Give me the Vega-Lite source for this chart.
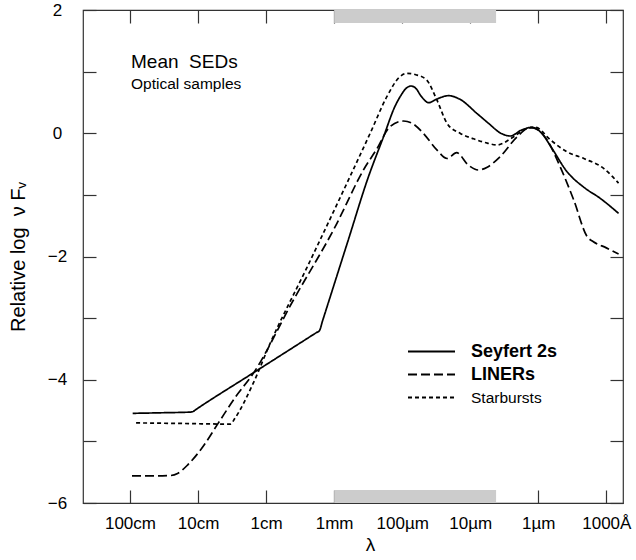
{
  "$schema": "https://vega.github.io/schema/vega-lite/v6.json",
  "width": 540,
  "height": 493,
  "autosize": {"type": "none"},
  "padding": {"left": 83, "top": 10, "right": 13, "bottom": 57},
  "background": "white",
  "config": {
    "font": "Liberation Sans",
    "view": {"stroke": "#333", "strokeWidth": 1.2},
    "axis": {
      "domain": false,
      "grid": false,
      "tickColor": "#333",
      "tickWidth": 1.2,
      "tickSize": -13,
      "labelColor": "#000",
      "labelFont": "Liberation Sans",
      "labelFontSize": 17,
      "titleFont": "Liberation Sans",
      "titleColor": "#000",
      "titleFontWeight": "normal",
      "zindex": 1
    }
  },
  "title": {
    "text": "Mean\u00a0\u00a0SEDs",
    "subtitle": "Optical samples",
    "anchor": "start",
    "frame": "group",
    "dx": 48,
    "dy": 95,
    "fontSize": 19,
    "fontWeight": "normal",
    "color": "#000",
    "subtitleFontSize": 15.5,
    "subtitleColor": "#000",
    "subtitlePadding": 5
  },
  "datasets": {
    "bands": [
      {"x1": 1, "x2": 3.38, "y1": 2, "y2": 1.79},
      {"x1": 1, "x2": 3.38, "y1": -6, "y2": -5.79}
    ],
    "sed": [
      {"series": "Seyfert 2s", "x": -1.96, "y": -4.545},
      {"series": "Seyfert 2s", "x": -1.5, "y": -4.535},
      {"series": "Seyfert 2s", "x": -1.12, "y": -4.525},
      {"series": "Seyfert 2s", "x": -1.08, "y": -4.52},
      {"series": "Seyfert 2s", "x": -1.04, "y": -4.49},
      {"series": "Seyfert 2s", "x": -0.19, "y": -3.89},
      {"series": "Seyfert 2s", "x": 0.74, "y": -3.235},
      {"series": "Seyfert 2s", "x": 0.784, "y": -3.204},
      {"series": "Seyfert 2s", "x": 0.83, "y": -3.045},
      {"series": "Seyfert 2s", "x": 1.2, "y": -1.76},
      {"series": "Seyfert 2s", "x": 1.5, "y": -0.72},
      {"series": "Seyfert 2s", "x": 1.725, "y": -0.06},
      {"series": "Seyfert 2s", "x": 1.9, "y": 0.45},
      {"series": "Seyfert 2s", "x": 1.97, "y": 0.593},
      {"series": "Seyfert 2s", "x": 2.05, "y": 0.72},
      {"series": "Seyfert 2s", "x": 2.13, "y": 0.767},
      {"series": "Seyfert 2s", "x": 2.2, "y": 0.73},
      {"series": "Seyfert 2s", "x": 2.28, "y": 0.6},
      {"series": "Seyfert 2s", "x": 2.39, "y": 0.496},
      {"series": "Seyfert 2s", "x": 2.5, "y": 0.55},
      {"series": "Seyfert 2s", "x": 2.68, "y": 0.61},
      {"series": "Seyfert 2s", "x": 2.85, "y": 0.55},
      {"series": "Seyfert 2s", "x": 3.1, "y": 0.32},
      {"series": "Seyfert 2s", "x": 3.27, "y": 0.16},
      {"series": "Seyfert 2s", "x": 3.45, "y": 0.0},
      {"series": "Seyfert 2s", "x": 3.59, "y": -0.045},
      {"series": "Seyfert 2s", "x": 3.75, "y": 0.05},
      {"series": "Seyfert 2s", "x": 3.91, "y": 0.096},
      {"series": "Seyfert 2s", "x": 4.05, "y": 0.0},
      {"series": "Seyfert 2s", "x": 4.2, "y": -0.244},
      {"series": "Seyfert 2s", "x": 4.42, "y": -0.62},
      {"series": "Seyfert 2s", "x": 4.67, "y": -0.877},
      {"series": "Seyfert 2s", "x": 4.91, "y": -1.056},
      {"series": "Seyfert 2s", "x": 5.18, "y": -1.3},
      {"series": "LINERs", "x": -1.97, "y": -5.56},
      {"series": "LINERs", "x": -1.6, "y": -5.56},
      {"series": "LINERs", "x": -1.41, "y": -5.555},
      {"series": "LINERs", "x": -1.3, "y": -5.52},
      {"series": "LINERs", "x": -1.15, "y": -5.38},
      {"series": "LINERs", "x": -0.95, "y": -5.12},
      {"series": "LINERs", "x": -0.7, "y": -4.7},
      {"series": "LINERs", "x": -0.45, "y": -4.28},
      {"series": "LINERs", "x": -0.19, "y": -3.9},
      {"series": "LINERs", "x": 0.4, "y": -2.71},
      {"series": "LINERs", "x": 1.0, "y": -1.55},
      {"series": "LINERs", "x": 1.45, "y": -0.56},
      {"series": "LINERs", "x": 1.63, "y": -0.25},
      {"series": "LINERs", "x": 1.82, "y": 0.106},
      {"series": "LINERs", "x": 2.02, "y": 0.199},
      {"series": "LINERs", "x": 2.15, "y": 0.16},
      {"series": "LINERs", "x": 2.31, "y": 0.0},
      {"series": "LINERs", "x": 2.51, "y": -0.27},
      {"series": "LINERs", "x": 2.66, "y": -0.41},
      {"series": "LINERs", "x": 2.8, "y": -0.316},
      {"series": "LINERs", "x": 2.97, "y": -0.515},
      {"series": "LINERs", "x": 3.12, "y": -0.596},
      {"series": "LINERs", "x": 3.25, "y": -0.55},
      {"series": "LINERs", "x": 3.44, "y": -0.38},
      {"series": "LINERs", "x": 3.69, "y": -0.056},
      {"series": "LINERs", "x": 3.88, "y": 0.096},
      {"series": "LINERs", "x": 4.0, "y": 0.05},
      {"series": "LINERs", "x": 4.13, "y": -0.11},
      {"series": "LINERs", "x": 4.32, "y": -0.54},
      {"series": "LINERs", "x": 4.52, "y": -1.08},
      {"series": "LINERs", "x": 4.72, "y": -1.68},
      {"series": "LINERs", "x": 4.81, "y": -1.76},
      {"series": "LINERs", "x": 5.0, "y": -1.86},
      {"series": "LINERs", "x": 5.18, "y": -1.96},
      {"series": "Starbursts", "x": -1.91, "y": -4.7},
      {"series": "Starbursts", "x": -1.2, "y": -4.71},
      {"series": "Starbursts", "x": -0.52, "y": -4.72},
      {"series": "Starbursts", "x": -0.46, "y": -4.63},
      {"series": "Starbursts", "x": -0.19, "y": -4.06},
      {"series": "Starbursts", "x": 0.06, "y": -3.41},
      {"series": "Starbursts", "x": 0.6, "y": -2.18},
      {"series": "Starbursts", "x": 1.235, "y": -0.7},
      {"series": "Starbursts", "x": 1.53, "y": 0.0},
      {"series": "Starbursts", "x": 1.775, "y": 0.593},
      {"series": "Starbursts", "x": 1.95, "y": 0.9},
      {"series": "Starbursts", "x": 2.07, "y": 0.973},
      {"series": "Starbursts", "x": 2.2, "y": 0.95},
      {"series": "Starbursts", "x": 2.36, "y": 0.864},
      {"series": "Starbursts", "x": 2.51, "y": 0.54},
      {"series": "Starbursts", "x": 2.66, "y": 0.16},
      {"series": "Starbursts", "x": 2.85, "y": 0.0},
      {"series": "Starbursts", "x": 3.05, "y": -0.09},
      {"series": "Starbursts", "x": 3.25, "y": -0.16},
      {"series": "Starbursts", "x": 3.39, "y": -0.19},
      {"series": "Starbursts", "x": 3.64, "y": -0.056},
      {"series": "Starbursts", "x": 3.8, "y": 0.06},
      {"series": "Starbursts", "x": 3.96, "y": 0.096},
      {"series": "Starbursts", "x": 4.18, "y": -0.11},
      {"series": "Starbursts", "x": 4.42, "y": -0.3},
      {"series": "Starbursts", "x": 4.67, "y": -0.41},
      {"series": "Starbursts", "x": 4.96, "y": -0.57},
      {"series": "Starbursts", "x": 5.18, "y": -0.81}
    ]
  },
  "resolve": {"axis": {"x": "independent", "y": "independent"}},
  "layer": [
    {
      "data": {"name": "bands"},
      "mark": {"type": "rect", "color": "#cccccc"},
      "encoding": {
        "x": {
          "field": "x1", "type": "quantitative",
          "scale": {"domain": [-2.69, 5.245], "nice": false, "zero": false},
          "axis": {"orient": "top", "values": [-2, -1, 0, 1, 2, 3, 4, 5], "labels": false, "title": null}
        },
        "x2": {"field": "x2"},
        "y": {
          "field": "y1", "type": "quantitative",
          "scale": {"domain": [-6, 2], "nice": false, "zero": false},
          "axis": {"orient": "right", "values": [-6, -5, -4, -3, -2, -1, 0, 1, 2], "labels": false, "title": null}
        },
        "y2": {"field": "y2"}
      }
    },
    {
      "data": {"name": "sed"},
      "mark": {"type": "line", "interpolate": "monotone", "color": "black", "strokeWidth": 1.7},
      "encoding": {
        "x": {
          "field": "x", "type": "quantitative",
          "axis": {
            "orient": "bottom",
            "values": [-2, -1, 0, 1, 2, 3, 4, 5],
            "labelExpr": "['100cm','10cm','1cm','1mm','100µm','10µm','1µm','1000Å'][datum.value + 2]",
            "labelPadding": 25,
            "labelFlush": false,
            "title": "λ",
            "titleFontSize": 19,
            "titleX": 287,
            "titleY": 32,
            "titleBaseline": "top"
          }
        },
        "y": {
          "field": "y", "type": "quantitative",
          "axis": {
            "orient": "left",
            "values": [-6, -5, -4, -3, -2, -1, 0, 1, 2],
            "labelExpr": "datum.value % 2 === 0 ? datum.label : ''",
            "labelAlign": "center",
            "labelPadding": 39,
            "labelFlush": false,
            "title": "Relative log\u00a0\u00a0ν F\u1d65",
            "titleFontSize": 20,
            "titleX": -55
          }
        },
        "strokeDash": {
          "field": "series", "type": "nominal",
          "scale": {"domain": ["Seyfert 2s", "LINERs", "Starbursts"], "range": [[1, 0], [9, 4], [4, 3]]},
          "legend": {
            "orient": "none",
            "legendX": 324,
            "legendY": 331,
            "title": null,
            "symbolType": "stroke",
            "symbolSize": 2209,
            "symbolStrokeWidth": 2,
            "symbolStrokeColor": "black",
            "clipHeight": 21,
            "rowPadding": 2,
            "labelOffset": 15,
            "labelFontSize": 18,
            "labelColor": "black",
            "labelFont": "Liberation Sans",
            "labelLimit": 300,
            "padding": 0,
            "encode": {
              "labels": {
                "update": {
                  "fontWeight": {"signal": "datum.label === 'Starbursts' ? 'normal' : 'bold'"},
                  "fontSize": {"signal": "datum.label === 'Starbursts' ? 15.5 : 18"}
                }
              }
            }
          }
        }
      }
    }
  ]
}
